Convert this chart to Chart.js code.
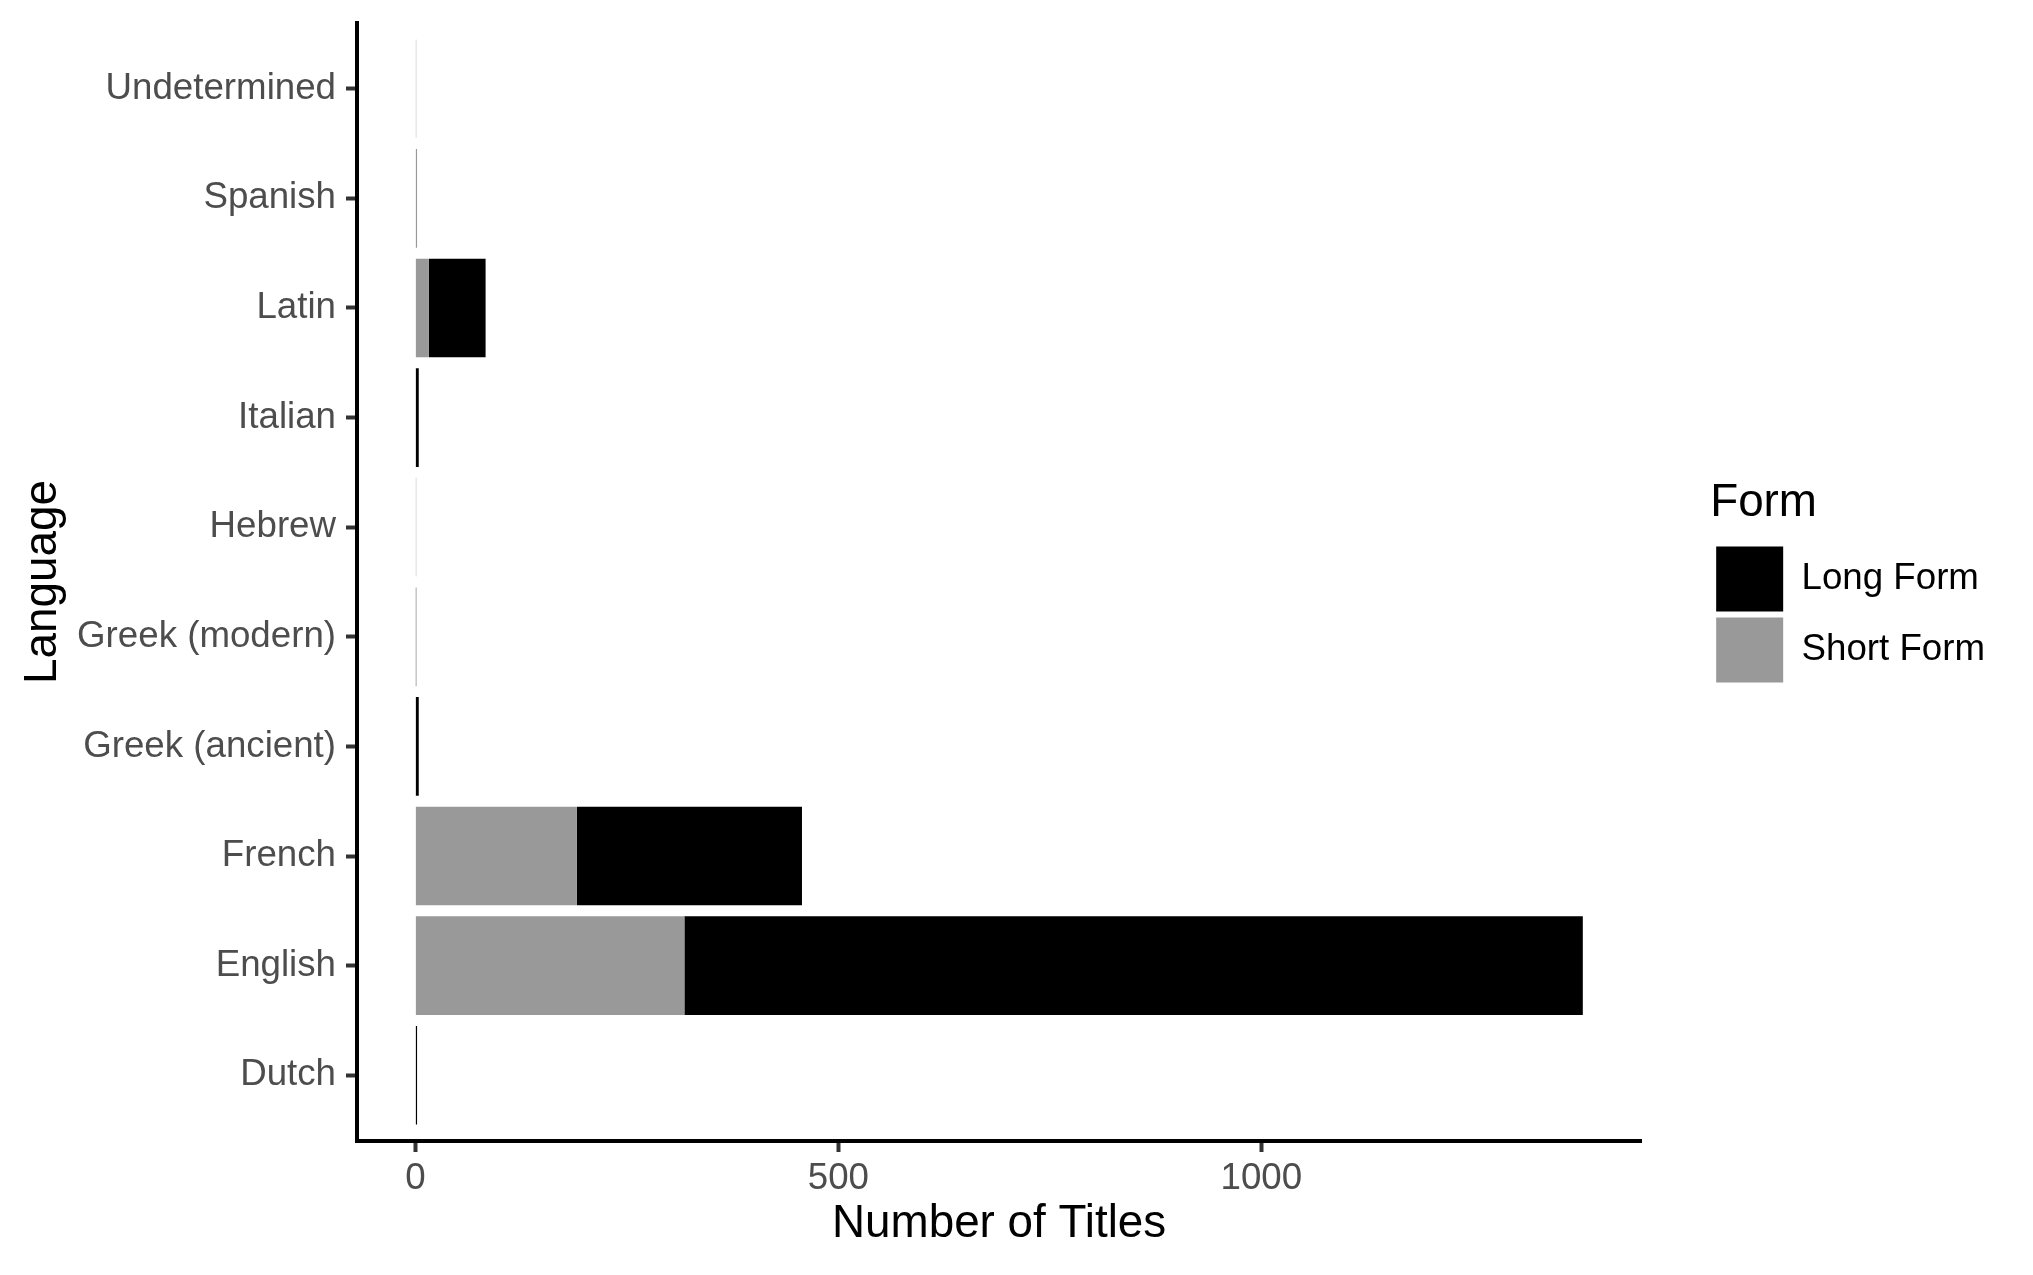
<!DOCTYPE html>
<html>
<head>
<meta charset="utf-8">
<script src="https://cdn.jsdelivr.net/npm/chart.js@4.4.1/dist/chart.umd.min.js"></script>
<style>
  html, body { margin: 0; padding: 0; background: #fff; }
  #wrap { width: 2033px; height: 1275px; }
</style>
</head>
<body>
<div id="wrap"><canvas id="chart1"></canvas></div>
<script>
// top to bottom, as in the picture
const languages = ['Undetermined', 'Spanish', 'Latin', 'Italian', 'Hebrew',
  'Greek (modern)', 'Greek (ancient)', 'French', 'English', 'Dutch'];
const shortForm = [1, 2, 16, 0, 1, 0, 0, 191, 318, 0];
const longForm = [0, 0, 67, 4, 0, 1, 4, 266, 1062, 2];
const xTicks = [0, 500, 1000];

const toPoints = (vals) => vals.map((v, i) => ({ x: v, y: i }));

const tickFont = { family: 'Liberation Sans', size: 36.7 };
const titleFont = { family: 'Liberation Sans', size: 45.8 };

const ctx = document.getElementById('chart1');

new Chart(ctx, {
  type: 'bar',
  data: {
    datasets: [
      {
        label: 'Short Form',
        data: toPoints(shortForm),
        backgroundColor: '#999999',
        borderWidth: 0,
      },
      {
        label: 'Long Form',
        data: toPoints(longForm),
        backgroundColor: '#000000',
        borderWidth: 0,
      },
    ],
  },
  options: {
    indexAxis: 'y',
    responsive: true,
    maintainAspectRatio: false,
    animation: false,
    categoryPercentage: 0.9,
    barPercentage: 1,
    layout: { padding: { top: 23, right: 38, bottom: 0, left: 0 } },
    plugins: {
      tooltip: { enabled: false },
      legend: {
        position: 'right',
        fullSize: false,
        reverse: true,
        align: 'center',
        title: {
          display: true,
          text: 'Form',
          color: '#000',
          position: 'start',
          font: titleFont,
          padding: { top: 5, bottom: 5 },
        },
        labels: {
          boxWidth: 67,
          boxHeight: 65,
          padding: 6,
          color: '#000',
          font: tickFont,
        },
      },
    },
    scales: {
      x: {
        type: 'linear',
        stacked: true,
        min: -69,
        max: 1449,
        afterBuildTicks: (s) => { s.ticks = xTicks.map((v) => ({ value: v })); },
        afterFit: (s) => { s.height = 134; },
        grid: { display: true, drawOnChartArea: false, drawTicks: true, tickLength: 11, tickColor: '#333333', tickWidth: 4 },
        border: { display: true, color: '#000', width: 4 },
        ticks: { color: '#4D4D4D', font: tickFont, padding: 5, maxRotation: 0, callback: (v) => String(v) },
        title: { display: true, text: 'Number of Titles', color: '#000', font: titleFont, padding: { top: 0, bottom: 23 } },
      },
      y: {
        type: 'linear',
        stacked: true,
        reverse: true,
        offset: false,
        min: -0.6,
        max: 9.6,
        afterFit: (s) => { s.width = 357; s.paddingTop = 0; s.paddingBottom = 0; },
        grid: { display: true, offset: false, drawOnChartArea: false, drawTicks: true, tickLength: 11, tickColor: '#333333', tickWidth: 4 },
        border: { display: true, color: '#000', width: 4 },
        ticks: {
          stepSize: 1,
          includeBounds: false,
          color: '#4D4D4D',
          font: tickFont,
          padding: 10,
          callback: (v) => languages[v] ?? '',
        },
        title: { display: true, text: 'Language', color: '#000', font: titleFont, padding: { top: 16, bottom: 0 } },
      },
      gap: {
        type: 'linear',
        position: 'right',
        display: true,
        afterFit: (s) => { s.width = 69; },
        grid: { display: false, drawTicks: false },
        border: { display: false },
        ticks: { display: false },
      },
    },
  },
});
</script>
</body>
</html>
